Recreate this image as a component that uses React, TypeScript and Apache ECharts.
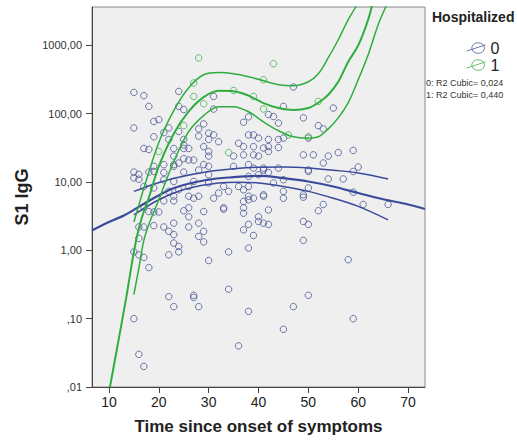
import React, { useEffect, useRef } from 'react';
import * as echarts from 'echarts';

const xTicks = [10, 20, 30, 40, 50, 60, 70];
const yTicks = [0.01, 0.1, 1, 10, 100, 1000];

// group 0 (not hospitalized): [days, S1 IgG]
const group0Points: [number, number][] = [
  [15, 205], [17, 184], [24, 212], [18, 128], [24, 128], [25, 115], [15, 62], [19, 77], [20, 82], [22, 62],
  [21, 53], [24, 55], [19, 46], [28, 60], [28, 47], [17, 31], [18, 30], [22, 42], [25, 42], [25, 35],
  [23, 31], [25, 31], [26, 31], [23, 24], [25, 22], [26, 21], [27, 21], [19, 17], [21, 18], [23, 18],
  [24, 19], [15, 14], [16, 13], [15, 11.5], [16, 11], [18, 14], [19, 14.3], [21, 13.8], [23, 17], [25, 14],
  [28, 15], [21, 10.8], [23, 10.2], [27, 10.2], [17, 8.6], [19, 8.2], [22, 7.3], [24, 7.7], [26, 8.6], [23, 6.2],
  [26, 6.2], [28, 6.2],
  [47, 246], [31, 179], [31, 117], [45, 128], [42, 97], [43, 91], [49, 87], [38, 90], [37, 75], [44, 73],
  [29, 71], [50, 44], [30, 52], [31, 49], [30, 42], [32, 39], [38, 49], [39, 49], [40, 44], [42, 42],
  [44, 42], [45, 44], [36, 37], [37, 33], [39, 33], [41, 31.5], [42, 33], [44, 32], [35, 24], [29, 33],
  [30, 28], [30, 24], [37, 25], [39, 25], [40, 24], [42, 28], [49, 25], [51, 25], [29, 18], [30, 17],
  [35, 17], [38, 18], [39, 16], [41, 16], [44, 16], [50, 15], [30, 12.8], [38, 12.1], [40, 12.8], [43, 9.7],
  [45, 10.8], [30, 9.7], [33, 8.6], [36, 8.6], [38, 8.6], [32, 6.9], [34, 7.3], [41, 6.5], [45, 7.3], [49, 6.5],
  [38, 6.2], [37, 7.7], [41, 15], [42, 13.8], [50, 14.3],
  [55, 121], [52, 67], [53, 60], [54, 24], [56, 27], [59, 29], [53, 19], [60, 16.6], [59, 14.3], [54, 11.1],
  [57, 11.1], [50, 8.2], [59, 7.1],
  [21, 5.3], [23, 5.3], [27, 5.8], [17, 4.3], [18, 3.7], [19, 3.65], [20, 3.65], [25, 3.8], [26, 4.2], [26, 3.1],
  [16, 2.2], [17, 2.2], [19, 2.3], [21, 2.2], [22, 1.9], [23, 1.7], [23, 2.5], [26, 2.2], [28, 2.5], [28, 1.6],
  [16, 1.5], [23, 1.28], [24, 1.14], [24, 0.95], [22, 0.86], [15, 0.95], [16, 0.86], [17, 0.79], [18, 0.56], [22, 0.21],
  [23, 0.15], [27, 0.22], [27, 0.205], [28, 0.15], [15, 0.1], [16, 0.03], [17, 0.02],
  [31, 5.8], [33, 4.2], [33, 4.0], [29, 3.7], [37, 5.2], [38, 5.5], [39, 5.8], [41, 6.2], [45, 5.8], [49, 6.0],
  [37, 4.2], [37, 3.5], [42, 3.9], [40, 3.1], [40, 2.65], [41, 2.5], [42, 2.4], [49, 2.65], [50, 2.4], [29, 1.9],
  [37, 2.0], [38, 2.4], [39, 1.65], [38, 1.08], [49, 1.4], [29, 1.33], [34, 0.95], [30, 0.71], [34, 0.27], [38, 0.128],
  [50, 0.22], [47, 0.15], [45, 0.07], [36, 0.04], [59, 0.1], [58, 0.73], [52, 3.8], [53, 4.7], [61, 4.7], [66, 4.7],
];

// group 1 (hospitalized)
const group1Points: [number, number][] = [
  [28, 655], [27, 282], [27, 179], [29, 140], [25, 67], [20, 28], [34, 27], [35, 219],
  [39, 179], [43, 540], [41, 315], [41, 117], [46, 49], [52, 151], [50, 46],
];

// cubic fit lines
const fit0: [number, number][] = [
  [6.6, 1.96], [10, 2.6], [13.2, 3.3], [17.8, 5.2], [23.1, 8.2], [29.8, 10.8], [35, 11.8], [40.2, 12.3],
  [45, 11.4], [50, 10.2], [55, 8.6], [60, 6.9], [65, 5.6], [70, 4.7], [73.4, 4.04],
];
const fit0Upper: [number, number][] = [
  [15, 7.3], [19, 9.3], [23.3, 11.5], [30, 14.3], [35, 15.7], [40, 16.5], [45, 16.6], [50, 16.1],
  [55, 14.9], [60, 13.6], [66, 11.1],
];
const fit0Lower: [number, number][] = [
  [15, 3.3], [20, 5.5], [25.4, 7.9], [32, 9.7], [36, 9.96], [40, 9.7], [45, 8.6], [50, 7.3],
  [55, 5.8], [60, 4.4], [66, 2.8],
];
const fit1: [number, number][] = [
  [10.2, 0.01], [12, 0.052], [13.5, 0.21], [15, 0.95], [16, 2.1], [17, 3.7], [18, 5.9], [20, 17], [23, 51],
  [26, 108], [29, 175], [32, 217], [35, 214], [38, 184], [41, 143], [44, 121], [47, 113], [50, 121],
  [52, 145], [54, 190], [56, 294], [58, 577], [60, 1000], [62, 2390], [63, 4500],
];
const fit1Upper: [number, number][] = [
  [15, 2.6], [16, 4.6], [17, 8.1], [20, 38], [23, 111], [26, 240], [29, 372], [32, 400], [35, 385],
  [38, 348], [41, 304], [44, 266], [47, 257], [50, 294], [52, 385], [54, 660], [56, 1210], [58, 2380],
  [59.5, 3650], [60, 4500],
];
const fit1Lower: [number, number][] = [
  [15, 0.225], [16, 0.55], [17, 1.4], [18, 2.4], [20, 5.5], [23, 20], [26, 55], [29, 94], [32, 127],
  [35, 127], [38, 107], [41, 76], [44, 56.5], [47, 46], [50, 44], [52, 46], [54, 60], [56, 87],
  [58, 145], [60, 315], [62, 731], [64, 2010], [65.5, 3650], [66, 4600],
];

const r2Labels = ['0: R2 Cubic= 0,024', '1: R2 Cubic= 0,440'];

const BLUE = '#3a4a9a';
const BLUE_PT = '#4a5896';
const GREEN = '#2fae3f';
const GREEN_PT = '#45b04f';
const FONT = 'Liberation Sans, Arial, sans-serif';

const fmtY = (v: number) => {
  const s = v.toFixed(2).replace('.', ',');
  return v < 1 ? s.replace(/^0/, '') : s;
};

const legendIcon = 'path://M5,6 A6,5 0 1,0 17,6 A6,5 0 1,0 5,6 Z M0,9 L18,3';

function lineSeries(name: string, data: [number, number][], color: string, width: number) {
  return {
    type: 'line',
    name,
    data,
    showSymbol: false,
    symbol: 'none',
    smooth: 0.35,
    z: 5,
    lineStyle: { color, width },
    silent: true,
  };
}

export default function App() {
  const ref = useRef<HTMLDivElement>(null);
  useEffect(() => {
    const chart = echarts.init(ref.current!, null, { renderer: 'svg' });
    chart.setOption({
      animation: false,
      backgroundColor: '#ffffff',
      textStyle: { fontFamily: FONT },
      grid: {
        left: 92, right: 92, top: 7, bottom: 54,
        show: true, backgroundColor: '#efefef', borderColor: '#8a8a8a', borderWidth: 1,
      },
      legend: {
        data: [
          { name: '0', icon: legendIcon, itemStyle: { color: 'none', borderColor: BLUE_PT, borderWidth: 1 } },
          { name: '1', icon: legendIcon, itemStyle: { color: 'none', borderColor: GREEN_PT, borderWidth: 1 } },
        ],
        orient: 'vertical',
        left: 459,
        top: 35,
        itemWidth: 19,
        itemHeight: 12,
        itemGap: 1,
        selectedMode: false,
        textStyle: { fontSize: 16, color: '#222', fontFamily: FONT },
      },
      xAxis: {
        type: 'value',
        min: 6.6,
        max: 73.4,
        name: 'Time since onset of symptoms',
        nameLocation: 'middle',
        nameGap: 31,
        nameTextStyle: { fontSize: 17, fontWeight: 'bold', color: '#222', fontFamily: FONT },
        axisLine: { show: true, onZero: false, lineStyle: { color: '#444' } },
        axisTick: { show: true, length: 6, customValues: xTicks, lineStyle: { color: '#444' } },
        axisLabel: { customValues: xTicks, fontSize: 14, color: '#222', margin: 8, fontFamily: FONT },
        splitLine: { show: false },
      },
      yAxis: {
        type: 'log',
        logBase: 10,
        min: 0.01,
        max: 3650,
        name: 'S1 IgG',
        nameLocation: 'middle',
        nameGap: 52,
        nameTextStyle: { fontSize: 18, fontWeight: 'bold', color: '#222', fontFamily: FONT },
        axisLine: { show: true, lineStyle: { color: '#444' } },
        axisTick: { show: true, length: 6, customValues: yTicks, lineStyle: { color: '#444' } },
        axisLabel: { customValues: yTicks, formatter: fmtY, fontSize: 11, color: '#333', margin: 10, fontFamily: FONT },
        splitLine: { show: false },
        minorTick: { show: false },
      },
      graphic: [
        { type: 'text', left: 432, top: 10, style: { text: 'Hospitalized', font: `bold 14px ${FONT}`, fill: '#222' } },
        { type: 'text', left: 426, top: 78, style: { text: r2Labels[0], font: `9px ${FONT}`, fill: '#333' } },
        { type: 'text', left: 426, top: 90, style: { text: r2Labels[1], font: `9px ${FONT}`, fill: '#333' } },
      ],
      series: [
        {
          type: 'scatter', name: '0', data: group0Points, symbol: 'circle', symbolSize: 6.5, z: 3,
          itemStyle: { color: 'rgba(0,0,0,0)', borderColor: BLUE_PT, borderWidth: 1 },
        },
        {
          type: 'scatter', name: '1', data: group1Points, symbol: 'circle', symbolSize: 6.5, z: 3,
          itemStyle: { color: 'rgba(0,0,0,0)', borderColor: GREEN_PT, borderWidth: 1 },
        },
        lineSeries('fit 0', fit0, BLUE, 2.2),
        lineSeries('fit 0 upper', fit0Upper, BLUE, 1.5),
        lineSeries('fit 0 lower', fit0Lower, BLUE, 1.5),
        lineSeries('fit 1', fit1, GREEN, 2),
        lineSeries('fit 1 upper', fit1Upper, GREEN, 1.5),
        lineSeries('fit 1 lower', fit1Lower, GREEN, 1.5),
      ],
    });
    return () => chart.dispose();
  }, []);
  return (
    <div
      ref={ref}
      style={{ position: 'fixed', left: 0, top: 0, width: 517, height: 441, background: '#fff' }}
    />
  );
}
